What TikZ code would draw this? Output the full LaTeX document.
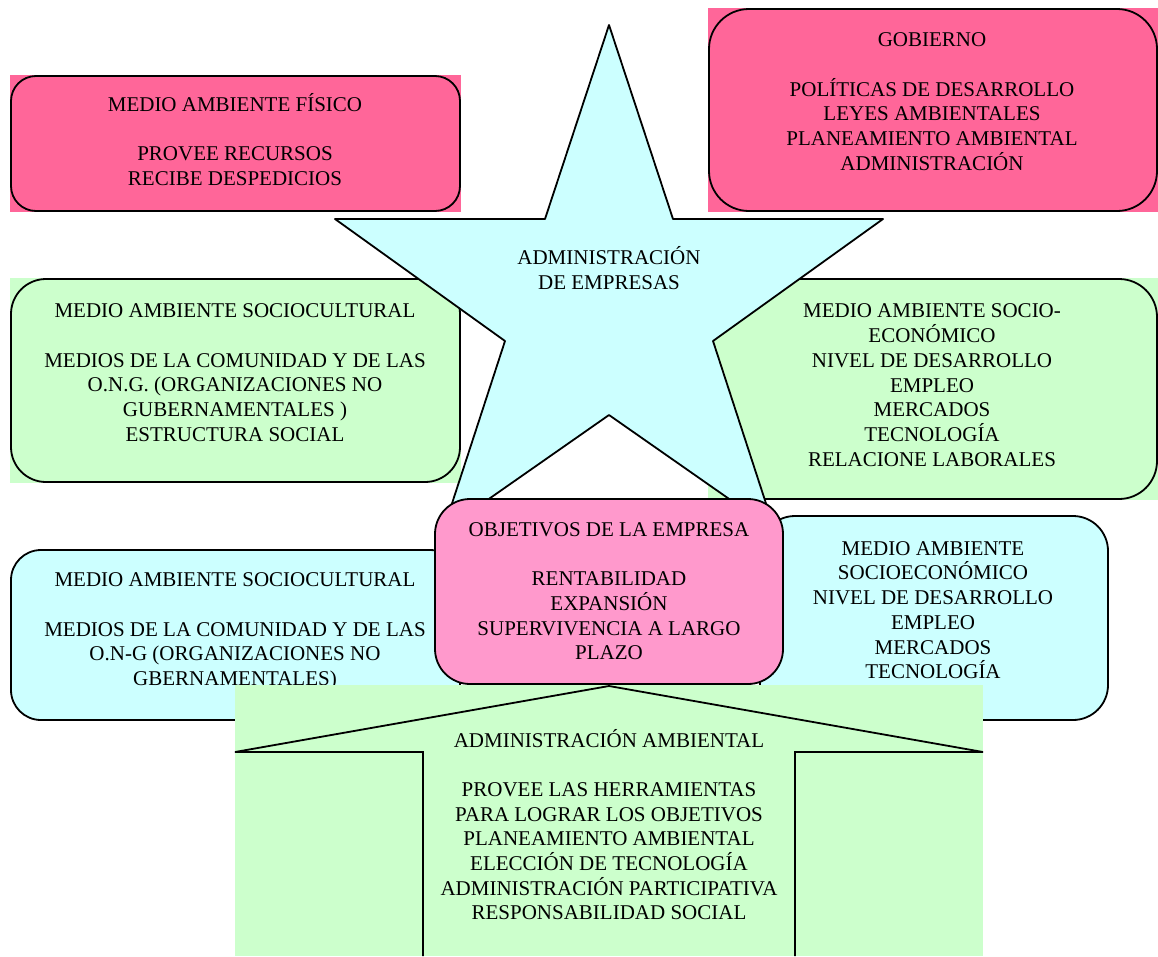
\documentclass[tikz,border=0pt]{standalone}
\usepackage{fontspec}
\setmainfont{Liberation Serif}
\definecolor{pinkA}{RGB}{255,102,153}
\definecolor{pinkB}{RGB}{255,153,204}
\definecolor{greenA}{RGB}{204,255,204}
\definecolor{cyanA}{RGB}{204,255,255}
\newcommand\lnx[1]{\smash{#1}}
\begin{document}
\begin{tikzpicture}[x=1pt,y=-1pt,
  outl/.style={draw=black,line width=1.8pt,line join=round},
  txt/.style={align=center,inner sep=0pt,font=\fontsize{21}{24.7}\selectfont}]
\useasboundingbox (0,0) rectangle (1158,956);
% Medio ambiente fisico
\fill[pinkA] (10,75) rectangle (461,212);
\draw[outl,rounded corners=25pt] (11,76) rectangle (460,211);
\node[txt] (fis) at (235,148.5) {\lnx{MEDIO AMBIENTE FÍSICO}\\[24.7pt]\lnx{PROVEE RECURSOS}\\\lnx{RECIBE DESPEDICIOS}};
% Gobierno
\fill[pinkA] (708,8) rectangle (1158,212);
\draw[outl,rounded corners=40pt] (709,9) rectangle (1157,211);
\node[txt] (gob) at (932,108.5) {\lnx{GOBIERNO}\\[24.7pt]\lnx{POLÍTICAS DE DESARROLLO}\\\lnx{LEYES AMBIENTALES}\\\lnx{PLANEAMIENTO AMBIENTAL}\\\lnx{ADMINISTRACIÓN}};
% Sociocultural (green)
\fill[greenA] (10,278) rectangle (461,483);
\draw[outl,rounded corners=35pt] (11,279) rectangle (460,482);
\node[txt] (soc1) at (235,379.5) {\lnx{MEDIO AMBIENTE SOCIOCULTURAL}\\[24.7pt]\lnx{MEDIOS DE LA COMUNIDAD Y DE LAS}\\\lnx{O.N.G. (ORGANIZACIONES NO}\\\lnx{GUBERNAMENTALES )}\\\lnx{ESTRUCTURA SOCIAL}};
% Socioeconomico (green)
\fill[greenA] (708,278) rectangle (1158,500);
\draw[outl,rounded corners=38pt] (709,279) rectangle (1157,499);
\node[txt] (eco1) at (932,392) {\lnx{MEDIO AMBIENTE SOCIO-}\\\lnx{ECONÓMICO}\\\lnx{NIVEL DE DESARROLLO}\\\lnx{EMPLEO}\\\lnx{MERCADOS}\\\lnx{TECNOLOGÍA}\\\lnx{RELACIONE LABORALES}};
% Star
\draw[outl,fill=cyanA] (609,25) -- (673,219) -- (883,219) -- (713,341) -- (775,531) -- (609,415) -- (443,531) -- (505,341) -- (335,219) -- (545,219) -- cycle;
\node[txt] (adm) at (609,277) {\lnx{ADMINISTRACIÓN}\\\lnx{DE EMPRESAS}};
% Sociocultural (cyan)
\draw[outl,fill=cyanA,rounded corners=30pt] (11,550) rectangle (460,720);
\node[txt] (soc2) at (235,636) {\lnx{MEDIO AMBIENTE SOCIOCULTURAL}\\[24.7pt]\lnx{MEDIOS DE LA COMUNIDAD Y DE LAS}\\\lnx{O.N-G (ORGANIZACIONES NO}\\\lnx{GBERNAMENTALES)}};
% Socioeconomico (cyan)
\draw[outl,fill=cyanA,rounded corners=35pt] (760,516) rectangle (1108,720);
\node[txt] (eco2) at (933,617) {\lnx{MEDIO AMBIENTE}\\\lnx{SOCIOECONÓMICO}\\\lnx{NIVEL DE DESARROLLO}\\\lnx{EMPLEO}\\\lnx{MERCADOS}\\\lnx{TECNOLOGÍA}};
% Objetivos
\draw[outl,fill=pinkB,rounded corners=35pt] (435,499) rectangle (783,684);
\node[txt] (obj) at (609,598) {\lnx{OBJETIVOS DE LA EMPRESA}\\[24.7pt]\lnx{RENTABILIDAD}\\\lnx{EXPANSIÓN}\\\lnx{SUPERVIVENCIA A LARGO}\\\lnx{PLAZO}};
% Administracion ambiental (arrow)
\fill[greenA] (235,685) rectangle (983,956);
\draw[outl,line join=miter] (423,956) -- (423,752) -- (235,752) -- (609,686) -- (983,752) -- (795,752) -- (795,956);
\node[txt] (amb) at (609,833.5) {\lnx{ADMINISTRACIÓN AMBIENTAL}\\[24.7pt]\lnx{PROVEE LAS HERRAMIENTAS}\\\lnx{PARA LOGRAR LOS OBJETIVOS}\\\lnx{PLANEAMIENTO AMBIENTAL}\\\lnx{ELECCIÓN DE TECNOLOGÍA}\\\lnx{ADMINISTRACIÓN PARTICIPATIVA}\\\lnx{RESPONSABILIDAD SOCIAL}};
\end{tikzpicture}
\end{document}
